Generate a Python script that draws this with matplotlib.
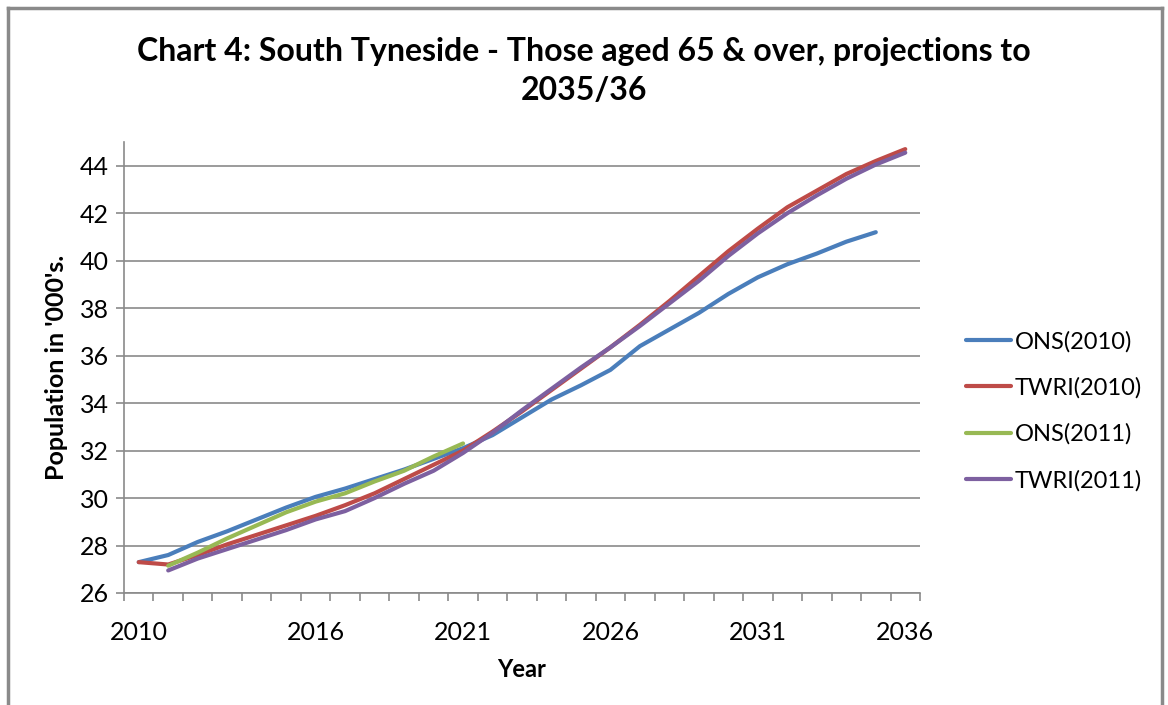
import matplotlib.pyplot as plt
from matplotlib.lines import Line2D

plt.rcParams['font.family'] = ['Lato', 'DejaVu Sans']

# Data (population in '000s)
years = list(range(2010, 2037))
ons_2010 = [27.3, 27.6, 28.15, 28.6, 29.1, 29.6, 30.05, 30.4, 30.8, 31.2, 31.65, 32.1,
            32.65, 33.4, 34.15, 34.75, 35.4, 36.4, 37.1, 37.8, 38.6, 39.3, 39.85, 40.3,
            40.8, 41.2]
twri_2010 = [27.3, 27.2, 27.6, 28.05, 28.45, 28.85, 29.25, 29.7, 30.2, 30.8, 31.4, 32.0,
             32.8, 33.65, 34.55, 35.45, 36.35, 37.3, 38.3, 39.35, 40.4, 41.35, 42.25,
             42.95, 43.65, 44.2, 44.7]
ons_2011 = [27.15, 27.7, 28.3, 28.85, 29.4, 29.85, 30.2, 30.7, 31.15, 31.75, 32.3]
twri_2011 = [26.95, 27.45, 27.85, 28.25, 28.65, 29.1, 29.45, 30.0, 30.6, 31.15, 31.9,
             32.75, 33.7, 34.6, 35.5, 36.35, 37.25, 38.2, 39.15, 40.2, 41.15, 42.0,
             42.75, 43.45, 44.05, 44.55]
labels = ['ONS(2010)', 'TWRI(2010)', 'ONS(2011)', 'TWRI(2011)']
colors = ['#4A7EBB', '#BE4B48', '#98B954', '#7D60A0']
xtick_years = [2010, 2016, 2021, 2026, 2031, 2036]

W, H = 1168, 705
fig = plt.figure(figsize=(W / 100, H / 100), dpi=100)
ax = fig.add_axes([124 / W, 1 - 593 / H, 796 / W, (593 - 142) / H])

series = [
    (years[:len(ons_2010)], ons_2010),
    (years, twri_2010),
    (years[1:1 + len(ons_2011)], ons_2011),
    (years[1:], twri_2011),
]
for (x, y), lab, c in zip(series, labels, colors):
    ax.plot(x, y, color=c, lw=3, label=lab, solid_capstyle='round')

ax.set_xlim(2009.5, 2036.5)
ax.set_ylim(26, 45)
ax.set_yticks(range(26, 45, 2))
ax.set_xticks(xtick_years)
ax.set_xticks([y + 0.5 for y in range(2009, 2037)], minor=True)
ax.grid(axis='y', color='#8a8a8a', lw=1.2)
ax.set_axisbelow(True)

for s in ['top', 'right']:
    ax.spines[s].set_visible(False)
for s in ['left', 'bottom']:
    ax.spines[s].set_color('#8a8a8a')
    ax.spines[s].set_linewidth(1.2)

ax.tick_params(axis='y', length=6, width=1.2, color='#8a8a8a', labelsize=18, pad=5)
ax.tick_params(axis='x', which='major', length=0, labelsize=18, pad=20)
ax.tick_params(axis='x', which='minor', length=6, width=1.2, color='#8a8a8a')

ax.set_xlabel('Year', fontsize=17, fontweight='bold', labelpad=10)
ax.set_ylabel("Population in '000's.", fontsize=18, fontweight='bold', labelpad=8)

fig.text(0.5, 1 - 71 / H, 'Chart 4: South Tyneside - Those aged 65 & over, projections to\n2035/36',
         ha='center', va='center', fontsize=23, fontweight='bold', linespacing=1.45)

ax.legend(loc='center left', bbox_to_anchor=(966 / W, 1 - 411 / H),
          bbox_transform=fig.transFigure, borderaxespad=0, borderpad=0,
          frameon=False, fontsize=17, handlelength=1.9, handletextpad=0.15,
          labelspacing=1.05)

# outer chart border
border = dict(color='#8a8a8a', lw=2.5, transform=fig.transFigure)
fig.add_artist(Line2D([8 / W, 8 / W], [0, 1 - 8 / H], **border))
fig.add_artist(Line2D([8 / W, 1162 / W], [1 - 8 / H, 1 - 8 / H], **border))
fig.add_artist(Line2D([1162 / W, 1162 / W], [0, 1 - 8 / H], **border))

fig.savefig('out.png', dpi=100)
